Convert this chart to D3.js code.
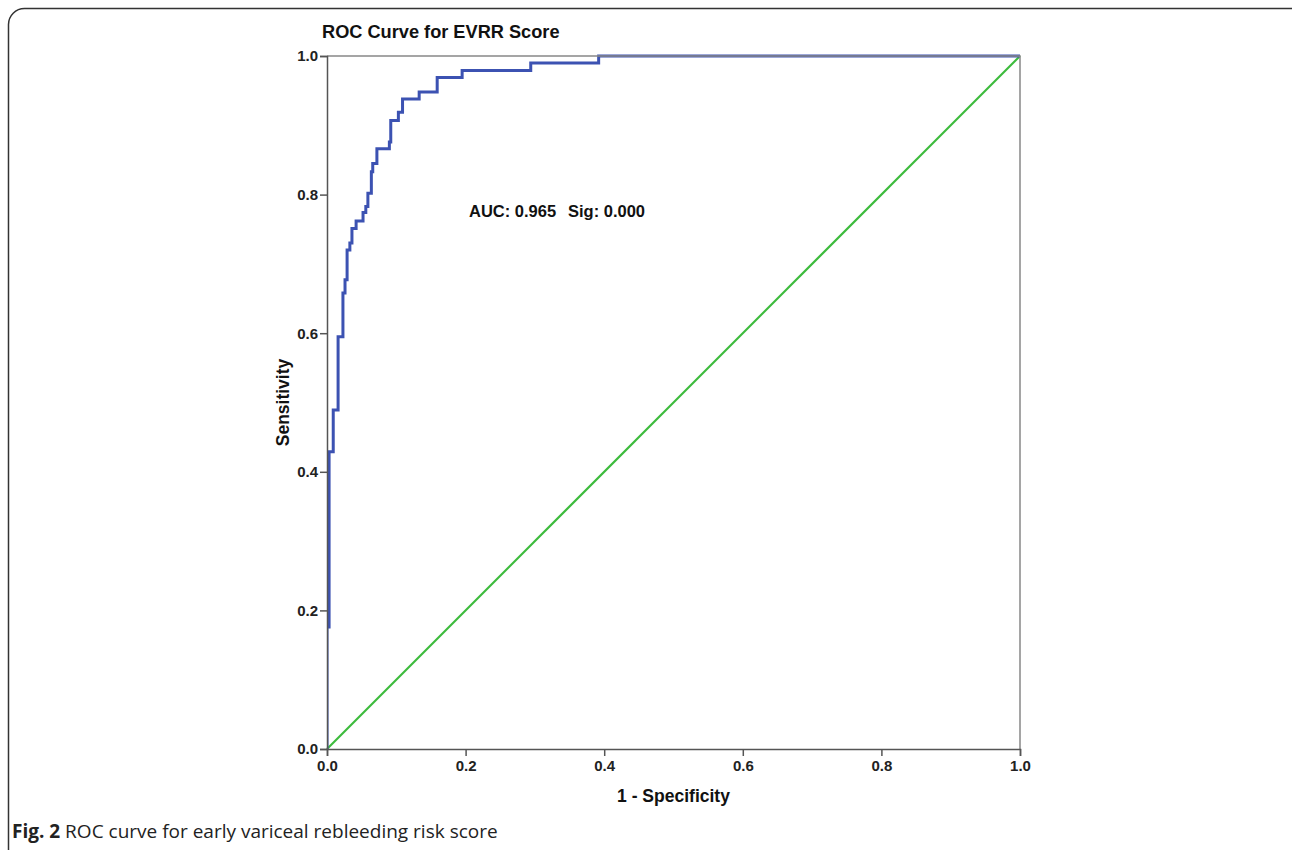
<!DOCTYPE html>
<html>
<head>
<meta charset="utf-8">
<script src="https://cdn.jsdelivr.net/npm/d3@7"></script>
<style>
  body { margin: 0; background: #fff; }
  svg { display: block; }
</style>
</head>
<body>
<div id="chart"></div>
<script>
// ROC curve points (1 - specificity, sensitivity)
var fpr = [0, 0, 0.003, 0.009, 0.016, 0.023, 0.026, 0.029, 0.033, 0.036, 0.042, 0.052, 0.056, 0.059,
           0.064, 0.066, 0.072, 0.090, 0.092, 0.103, 0.109, 0.133, 0.159, 0.195, 0.294, 0.392, 1.0];
var tpr = [0, 0.176, 0.429, 0.489, 0.595, 0.658, 0.677, 0.720, 0.730, 0.751, 0.762, 0.774, 0.783, 0.802,
           0.833, 0.845, 0.866, 0.876, 0.907, 0.919, 0.938, 0.948, 0.969, 0.979, 0.990, 1.0, 1.0];
var refLine = [[0, 0], [1, 1]];
var ticks = [0, 0.2, 0.4, 0.6, 0.8, 1.0];

var W = 1292, H = 850;
var margin = {top: 56, left: 327};
var size = 693;

var svg = d3.select("#chart")
  .append("svg")
  .attr("width", W)
  .attr("height", H);

// rounded figure frame
svg.append("rect")
  .attr("x", 8.5).attr("y", 8.5)
  .attr("width", 1300).attr("height", 900)
  .attr("rx", 16).attr("ry", 16)
  .attr("fill", "none")
  .attr("stroke", "#333")
  .attr("stroke-width", 1.5);

var g = svg.append("g")
  .attr("transform", "translate(" + margin.left + "," + margin.top + ")");

var x = d3.scaleLinear().domain([0, 1]).range([0, size]);
var y = d3.scaleLinear().domain([0, 1]).range([size, 0]);

g.append("clipPath").attr("id", "plotclip")
  .append("rect")
  .attr("x", 0).attr("y", -3)
  .attr("width", size + 3).attr("height", size + 3);

// diagonal reference
g.append("path")
  .datum(refLine)
  .attr("fill", "none")
  .attr("stroke", "#3dbb3d")
  .attr("stroke-width", 2.2)
  .attr("d", d3.line().x(function(d) { return x(d[0]); }).y(function(d) { return y(d[1]); }));

// ROC curve
var pts = fpr.map(function(v, i) { return [v, tpr[i]]; });
g.append("path")
  .datum(pts)
  .attr("clip-path", "url(#plotclip)")
  .attr("fill", "none")
  .attr("stroke", "#3c52b2")
  .attr("stroke-width", 3)
  .attr("stroke-linejoin", "miter")
  .attr("d", d3.line().curve(d3.curveStepAfter)
    .x(function(d) { return x(d[0]); })
    .y(function(d) { return y(d[1]); }));

// plot box
g.append("path")
  .attr("d", "M0,0H" + size + "V" + size)
  .attr("fill", "none")
  .attr("stroke", "#888")
  .attr("stroke-width", 1.5);

var xAxis = g.append("g")
  .attr("transform", "translate(0," + size + ")")
  .call(d3.axisBottom(x).tickValues(ticks).tickFormat(d3.format(".1f")).tickSize(7).tickPadding(4));
var yAxis = g.append("g")
  .call(d3.axisLeft(y).tickValues(ticks).tickFormat(d3.format(".1f")).tickSize(7).tickPadding(2));

[xAxis, yAxis].forEach(function(a) {
  a.select(".domain").attr("stroke", "#555").attr("stroke-width", 1.5);
  a.selectAll(".tick line").attr("stroke", "#555").attr("stroke-width", 1.5);
  a.selectAll(".tick text")
    .attr("fill", "#222")
    .style("font-family", "'Liberation Sans', Arial, sans-serif")
    .style("font-weight", "bold")
    .style("font-size", "15px");
});

var bold = "'Liberation Sans', Arial, sans-serif";

// title
svg.append("text")
  .attr("x", 322).attr("y", 38)
  .style("font-family", bold).style("font-weight", "bold").style("font-size", "18.2px")
  .attr("fill", "#111")
  .text("ROC Curve for EVRR Score");

// annotation
svg.append("text")
  .attr("x", 469).attr("y", 217)
  .style("font-family", bold).style("font-weight", "bold").style("font-size", "16.5px")
  .attr("fill", "#111")
  .text("AUC: 0.965");
svg.append("text")
  .attr("x", 568).attr("y", 217)
  .style("font-family", bold).style("font-weight", "bold").style("font-size", "16.5px")
  .attr("fill", "#111")
  .text("Sig: 0.000");

// axis titles
svg.append("text")
  .attr("x", margin.left + size / 2).attr("y", 802)
  .attr("text-anchor", "middle")
  .style("font-family", bold).style("font-weight", "bold").style("font-size", "17.5px")
  .attr("fill", "#111")
  .text("1 - Specificity");
svg.append("text")
  .attr("transform", "translate(289," + (margin.top + size / 2) + ") rotate(-90)")
  .attr("text-anchor", "middle")
  .style("font-family", bold).style("font-weight", "bold").style("font-size", "17.5px")
  .attr("fill", "#111")
  .text("Sensitivity");

// caption
var cap = svg.append("text")
  .attr("x", 12).attr("y", 838)
  .style("font-family", "'Open Sans', 'Noto Sans', sans-serif")
  .style("font-size", "19px")
  .attr("fill", "#222");
cap.append("tspan").style("font-weight", "bold").text("Fig. 2");
cap.append("tspan").text(" ROC curve for early variceal rebleeding risk score");
</script>
</body>
</html>
